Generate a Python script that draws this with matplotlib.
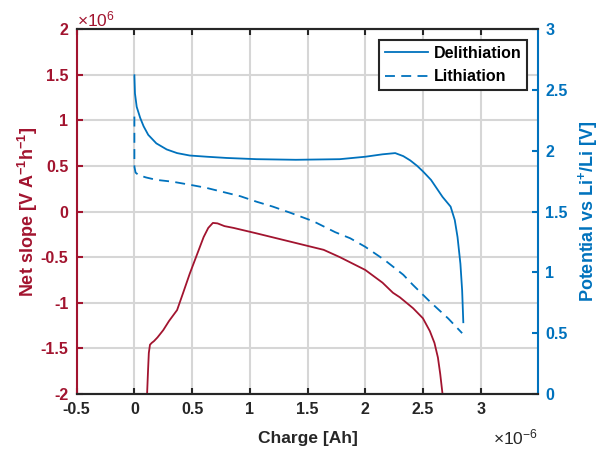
import matplotlib
matplotlib.use("Agg")
import matplotlib.pyplot as plt

plt.rcParams["font.family"] = ["Liberation Sans", "DejaVu Sans"]
plt.rcParams["font.weight"] = "bold"
plt.rcParams["axes.unicode_minus"] = False
plt.rcParams["mathtext.fontset"] = "custom"
plt.rcParams["mathtext.rm"] = "Liberation Sans:bold"
plt.rcParams["mathtext.bf"] = "Liberation Sans:bold"
plt.rcParams["mathtext.default"] = "bf"

RED = "#A2142F"
BLUE = "#0072BD"
DARK = "#262626"

# Charge in units of 1e-6 Ah, net slope in units of 1e6 V A^-1 h^-1
charge_delith = [0.0, 0.005, 0.02, 0.05, 0.08, 0.12, 0.19, 0.28, 0.37, 0.48, 0.63,
                 0.80, 1.06, 1.4, 1.78, 2.0, 2.15, 2.26, 2.33, 2.39, 2.45, 2.50,
                 2.57, 2.62, 2.67, 2.74, 2.776, 2.80, 2.825, 2.84, 2.85]
potential_delith = [2.62, 2.47, 2.36, 2.27, 2.20, 2.13, 2.06, 2.01, 1.98, 1.96, 1.95,
                    1.94, 1.93, 1.925, 1.93, 1.95, 1.97, 1.98, 1.955, 1.92, 1.875, 1.83,
                    1.76, 1.69, 1.62, 1.54, 1.43, 1.29, 1.07, 0.85, 0.59]

charge_lith = [0.0, 0.0, 0.01, 0.035, 0.1, 0.19, 0.33, 0.48, 0.62, 0.77, 0.92, 1.06,
               1.2, 1.35, 1.55, 1.74, 1.87, 2.0, 2.17, 2.33, 2.41, 2.56, 2.72, 2.84]
potential_lith = [2.28, 1.87, 1.82, 1.80, 1.78, 1.76, 1.745, 1.72, 1.695, 1.66, 1.625,
                  1.58, 1.54, 1.49, 1.42, 1.33, 1.28, 1.21, 1.10, 0.98, 0.90, 0.76,
                  0.62, 0.50]

charge_slope = [0.11, 0.118, 0.125, 0.135, 0.15, 0.17, 0.20, 0.25, 0.30, 0.37, 0.42,
                0.48, 0.54, 0.60, 0.64, 0.68, 0.72, 0.78, 0.86, 1.06, 1.35, 1.64,
                1.78, 2.0, 2.15, 2.24, 2.30, 2.415, 2.50, 2.56, 2.60, 2.63, 2.65, 2.67]
net_slope = [-2.0, -1.75, -1.55, -1.46, -1.44, -1.42, -1.38, -1.30, -1.20, -1.08, -0.90,
             -0.68, -0.48, -0.28, -0.18, -0.125, -0.13, -0.16, -0.18, -0.24, -0.33, -0.42,
             -0.50, -0.64, -0.78, -0.89, -0.94, -1.06, -1.17, -1.31, -1.44, -1.60, -1.78,
             -2.0]

x_ticks = [-0.5, 0, 0.5, 1, 1.5, 2, 2.5, 3]
x_ticklabels = ["-0.5", "0", "0.5", "1", "1.5", "2", "2.5", "3"]
left_ticks = [-2, -1.5, -1, -0.5, 0, 0.5, 1, 1.5, 2]
left_ticklabels = ["-2", "-1.5", "-1", "-0.5", "0", "0.5", "1", "1.5", "2"]
right_ticks = [0, 0.5, 1, 1.5, 2, 2.5, 3]
right_ticklabels = ["0", "0.5", "1", "1.5", "2", "2.5", "3"]

fig = plt.figure(figsize=(6.01, 4.5), dpi=100)
ax1 = fig.add_axes([0.1276, 0.1244, 0.7681, 0.8112])
ax2 = ax1.twinx()

ax1.plot(charge_slope, net_slope, color=RED, lw=1.3, zorder=3)
ax1.set_xlim(-0.5, 3.5)
ax1.set_ylim(-2, 2)
ax1.set_xticks(x_ticks)
ax1.set_xticklabels(x_ticklabels)
ax1.set_yticks(left_ticks)
ax1.set_yticklabels(left_ticklabels)
ax1.grid(True, color="#d6d6d6", lw=1.5)
ax1.set_axisbelow(True)

l1, = ax2.plot(charge_delith, potential_delith, color=BLUE, lw=1.3, label="Delithiation")
l2, = ax2.plot(charge_lith, potential_lith, color=BLUE, lw=1.3, ls=(0, (5.5, 3.5)),
               label="Lithiation")
ax2.set_ylim(0, 3)
ax2.set_yticks(right_ticks)
ax2.set_yticklabels(right_ticklabels)

for ax in (ax1, ax2):
    for s in ax.spines.values():
        s.set_linewidth(1.5)
        s.set_color(DARK)
ax1.spines["left"].set_color(RED)
ax2.spines["left"].set_visible(False)
ax2.spines["right"].set_color(BLUE)
ax1.spines["right"].set_visible(False)

ax1.tick_params(axis="x", direction="in", length=4, width=1.5, colors=DARK,
                labelsize=11.5, top=True, pad=6)
ax1.tick_params(axis="y", direction="in", length=4, width=1.5, colors=RED,
                labelsize=11.5, right=False, pad=6)
ax2.tick_params(axis="y", direction="in", length=4, width=1.5, colors=BLUE,
                labelsize=11.5, pad=5)

ax1.set_xlabel("Charge [Ah]", fontsize=12.5, fontweight="bold", color=DARK, labelpad=10)
ax1.set_ylabel("Net slope [V A$^{-1}$h$^{-1}$]", fontsize=13,
               fontweight="bold", color=RED, labelpad=0)
ax2.set_ylabel("Potential vs Li$^{+}$/Li [V]", fontsize=13,
               fontweight="bold", color=BLUE, labelpad=6)

fig.text(0.128, 0.935, "×10$^{\\mathregular{6}}$", color=RED, fontsize=12.5,
         ha="left", va="bottom", fontweight="normal")
fig.text(0.895, 0.006, "×10$^{\\mathregular{-6}}$", color=DARK, fontsize=12.5,
         ha="right", va="bottom", fontweight="normal")

leg = ax2.legend(handles=[l1, l2], loc="upper right", bbox_to_anchor=(0.975, 0.97),
                 fancybox=False, edgecolor=DARK, framealpha=1, fontsize=11.5,
                 handlelength=2.7, borderpad=0.35, labelspacing=0.55,
                 handletextpad=0.35, borderaxespad=0)
leg.get_frame().set_linewidth(1.5)

fig.savefig("out.png", dpi=100)
